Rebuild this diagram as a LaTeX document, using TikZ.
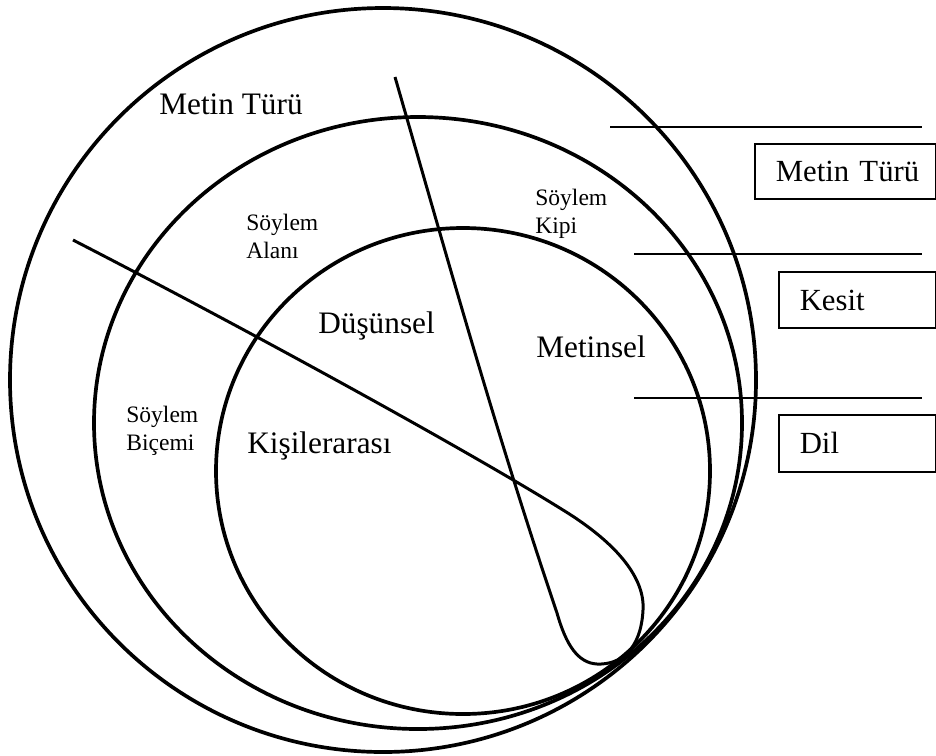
\documentclass[tikz,border=0pt]{standalone}
\usepackage{fontspec}
\setmainfont{Liberation Serif}
\usepackage{tikz}
\usetikzlibrary{positioning}
\tikzset{
  ring/.style={line width=2.1pt},
  loopline/.style={line width=1.7pt},
  rule/.style={line width=1.2pt},
  tag/.style={draw,line width=0.9pt,anchor=north west,align=left,inner xsep=0.42cm,
    text height=12pt,text depth=0pt,font=\fontsize{17.5}{21}\selectfont},
  big/.style={anchor=base west,inner sep=0pt,font=\fontsize{17.8}{21}\selectfont},
  small/.style={anchor=north west,inner sep=0pt,align=left,font=\fontsize{13.4}{15.9}\selectfont}
}
\begin{document}
\begin{tikzpicture}[x=0.02cm,y=-0.02cm]
\useasboundingbox (0,0) rectangle (936,755);
\draw[ring] (383,380) ellipse [x radius=373,y radius=372];
\draw[ring] (418,423) ellipse [x radius=324,y radius=306];
\draw[ring] (463,471) ellipse [x radius=247,y radius=243];

\draw[loopline] (73,240) .. controls (250,331) and (470,452) .. (563,510)
  .. controls (620,545) and (645,580) .. (643,610)
  .. controls (641,650) and (620,665) .. (597,664)
  .. controls (578,663) and (566,645) .. (557,613)
  .. controls (496,433) and (447,257) .. (395,77);

\draw[rule] (610,127) -- (922,127);
\draw[rule] (634,254) -- (922,254);
\draw[rule] (634,398) -- (922,398);

\node[tag, text width=2.78cm, minimum height=1.1cm] (tur) at (754,143) {\mbox{Metin Türü}};
\node[tag, text width=2.30cm, minimum height=1.12cm] (kesit) at (778,271) {Kesit};
\node[tag, text width=2.30cm, minimum height=1.14cm] (dil) at (778,414) {Dil};

\node[big] (mt) at (159,114) {Metin Türü};
\node[big] (dus) at (318,333) {Düşünsel};
\node[big] (kis) at (247,453) {Kişilerarası};
\node[big] (met) at (536,357) {Metinsel};
\node[small] (alan) at (246,214) {Söylem\\Alanı};
\node[small] (kip) at (535,189) {Söylem\\Kipi};
\node[small] (bic) at (126,406) {Söylem\\Biçemi};
\end{tikzpicture}
\end{document}
